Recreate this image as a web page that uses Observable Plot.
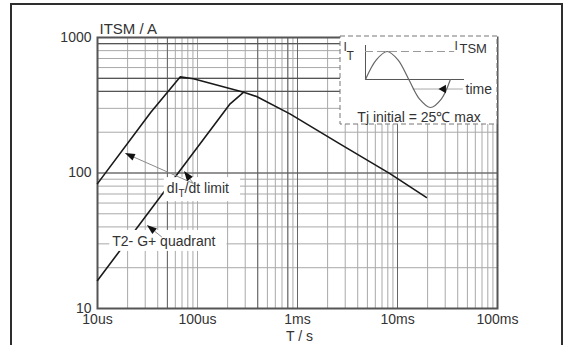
<!DOCTYPE html>
<html><head><meta charset="utf-8">
<script src="https://cdn.jsdelivr.net/npm/d3@7"></script>
<script src="https://cdn.jsdelivr.net/npm/@observablehq/plot@0.6"></script>
<style>
body{margin:0;background:#fff;}
#wrap{position:relative;width:564px;height:345px;overflow:hidden;font-family:"Liberation Sans",Arial,sans-serif;}
#frame{position:absolute;left:10px;top:3px;width:553px;height:420px;border:2px solid #2e2e2e;box-sizing:border-box;}
#main{position:absolute;left:0;top:0;}
#inset{position:absolute;left:339px;top:35px;}
</style></head>
<body><div id="wrap"><div id="frame"></div><div id="main"></div><div id="inset"></div></div>
<script>
const FONT = '"Liberation Sans", Arial, sans-serif';

// ---- data ----
const times1 = [1e-5, 3.4e-5, 6.7e-5, 9.1e-5, 2.9e-4, 3.9e-4, 8.4e-4, 2.65e-3, 8.4e-3, 1.94e-2];
const itsm1  = [83.5, 280, 512, 496, 395, 367, 273, 164, 99, 66];
const times2 = [1e-5, 2.12e-4, 2.9e-4];
const itsm2  = [16.1, 324, 395];

const xTicks = [1e-5, 1e-4, 1e-3, 1e-2, 1e-1];
const xTickLabels = ["10us", "100us", "1ms", "10ms", "100ms"];
const yTicks = [10, 100, 1000];
const yTickLabels = ["10", "100", "1000"];

const xGridDark = [5e-5, 4e-4, 8e-4, 1e-3, 1e-2];
const yGridDark = [100, 400, 500, 900];

// annotation labels (position in data units)
const noteText = [["dI", "T", "/dt limit"], ["T2- G+ quadrant", "", ""]];
const noteT = [1.02e-4, 4.66e-5];
const noteI = [76, 31];
// leader arrows
const arrowFromT = [9.2e-5, 9.2e-5, 4.45e-5];
const arrowFromI = [83, 83, 33.4];
const arrowToT   = [1.9e-5, 7.4e-5, 3.15e-5];
const arrowToI   = [139, 102.6, 41];

// inset schematic
const sineT = [0, 0.125, 0.25, 0.375, 0.5, 0.625, 0.75, 0.875, 0.98];
const sineV = [0, 0.7, 1, 0.7, 0, -0.7, -1, -0.7, 0];

// ---- build ----
const curve1 = times1.map((t, i) => ({t, v: itsm1[i]}));
const curve2 = times2.map((t, i) => ({t, v: itsm2[i]}));
const xGrid = [];
for (let e = -5; e <= -2; e++) for (let k = 1; k <= 9; k++) xGrid.push(k * Math.pow(10, e));
xGrid.push(0.1);
const yGrid = [];
for (let e = 1; e <= 2; e++) for (let k = 1; k <= 9; k++) yGrid.push(k * Math.pow(10, e));
yGrid.push(1000);

const plot = Plot.plot({
  width: 564, height: 345,
  marginLeft: 97, marginRight: 67, marginTop: 37, marginBottom: 37,
  style: {fontFamily: FONT, fontSize: "14px", color: "#333", background: "transparent", overflow: "visible"},
  x: {type: "log", domain: [1e-5, 0.1], ticks: xTicks, tickFormat: d => xTickLabels[xTicks.indexOf(d)], tickSize: 0, tickPadding: 6, label: null},
  y: {type: "log", domain: [10, 1000], ticks: yTicks, tickFormat: d => yTickLabels[yTicks.indexOf(d)], tickSize: 0, tickPadding: 6, label: null},
  marks: [
    Plot.ruleX(xGrid, {stroke: "#a9a9a9", strokeWidth: 1}),
    Plot.ruleY(yGrid, {stroke: "#a9a9a9", strokeWidth: 1}),
    Plot.ruleX(xGridDark, {stroke: "#666", strokeWidth: 1}),
    Plot.ruleY(yGridDark, {stroke: "#555", strokeWidth: 1.2}),
    Plot.frame({stroke: "#555", strokeWidth: 2}),
    Plot.line(curve1, {x: "t", y: "v", stroke: "#1a1a1a", strokeWidth: 1.6}),
    Plot.line(curve2, {x: "t", y: "v", stroke: "#1a1a1a", strokeWidth: 1.6}),
    Plot.text(["ITSM / A"], {frameAnchor: "top-left", dx: 2, dy: -4, textAnchor: "start", lineAnchor: "bottom", fontSize: 15, fill: "#333"}),
    Plot.text(["T / s"], {frameAnchor: "bottom", dx: 2, dy: 32, lineAnchor: "bottom", fill: "#333"})
  ]
});
document.getElementById("main").appendChild(plot);

// annotations through the plot's scales
const sx = plot.scale("x"), sy = plot.scale("y");
const svg = d3.select(plot);
const ann = svg.append("g").attr("font-family", FONT).attr("font-size", 14);
noteText.forEach((parts, k) => {
  const grp = ann.append("g");
  const tx = grp.append("text")
    .attr("x", sx.apply(noteT[k])).attr("y", sy.apply(noteI[k])).attr("dy", "0.32em")
    .attr("fill", "#333");
  tx.append("tspan").text(parts[0]);
  if (parts[1]) tx.append("tspan").attr("font-size", 10).attr("dy", 4).text(parts[1]);
  if (parts[2]) tx.append("tspan").attr("dy", parts[1] ? -4 : 0).text(parts[2]);
  const bb = tx.node().getBBox();
  grp.insert("rect", "text").attr("x", bb.x - 3).attr("y", bb.y - 3)
    .attr("width", bb.width + 14).attr("height", bb.height + 5).attr("fill", "white");
});
arrowFromT.forEach((_, k) => {
  const x1 = sx.apply(arrowFromT[k]), y1 = sy.apply(arrowFromI[k]);
  const x2 = sx.apply(arrowToT[k]), y2 = sy.apply(arrowToI[k]);
  const a = Math.atan2(y2 - y1, x2 - x1), L = 10, W = 3.6;
  const bx = x2 - L * Math.cos(a), by = y2 - L * Math.sin(a);
  ann.append("line").attr("x1", x1).attr("y1", y1).attr("x2", bx).attr("y2", by)
    .attr("stroke", "#8a8a8a").attr("stroke-width", 1);
  ann.append("path")
    .attr("d", `M${x2},${y2}L${bx + W * Math.sin(a)},${by - W * Math.cos(a)}L${bx - W * Math.sin(a)},${by + W * Math.cos(a)}Z`)
    .attr("fill", "#111");
});

// ---- inset ----
const sine = sineT.map((t, i) => ({t, v: sineV[i]}));
const inset = Plot.plot({
  width: 158, height: 89,
  marginLeft: 0, marginRight: 0, marginTop: 0, marginBottom: 0,
  style: {fontFamily: FONT, fontSize: "14px", color: "#333", background: "transparent", overflow: "visible"},
  x: {domain: [-0.3, 1.524], axis: null},
  y: {domain: [-1.607, 1.571], axis: null},
  marks: [
    Plot.frame({fill: "white", stroke: "#777", strokeDasharray: "5,3", inset: 0.5}),
    Plot.ruleX([0], {y1: 0, y2: 1.214, stroke: "#555"}),
    Plot.ruleY([0], {x1: 0, x2: 1.143, stroke: "#555"}),
    Plot.ruleY([1], {x1: 0, x2: 1.03, stroke: "#999", strokeDasharray: "8,4"}),
    Plot.ruleY([-0.34], {x1: 0.55, x2: 1.13, stroke: "#aaa"}),
    Plot.line(sine, {x: "t", y: "v", curve: "catmull-rom", stroke: "#666", strokeWidth: 1.2}),
    Plot.dot([0.9], {x: d => d, y: () => -0.34, symbol: "triangle", rotate: -90, r: 3.2, fill: "#111", stroke: "none"}),
    Plot.text(["I"], {x: () => -0.254, y: () => 1.0, textAnchor: "start", lineAnchor: "bottom", fontSize: 12}),
    Plot.text(["T"], {x: () => -0.219, y: () => 0.714, textAnchor: "start", lineAnchor: "bottom", fontSize: 12}),
    Plot.text(["I"], {x: () => 1.028, y: () => 1.054, textAnchor: "start", lineAnchor: "bottom", fontSize: 12}),
    Plot.text(["TSM"], {x: () => 1.085, y: () => 0.929, textAnchor: "start", lineAnchor: "bottom", fontSize: 13}),
    Plot.text(["time"], {x: () => 1.155, y: () => -0.34, textAnchor: "start", lineAnchor: "middle", fontSize: 14}),
    Plot.text(["Tj initial = 25℃ max"], {x: () => 0.618, y: () => -1.364, lineAnchor: "middle", fontSize: 14})
  ]
});
document.getElementById("inset").appendChild(inset);
</script>
</body></html>
